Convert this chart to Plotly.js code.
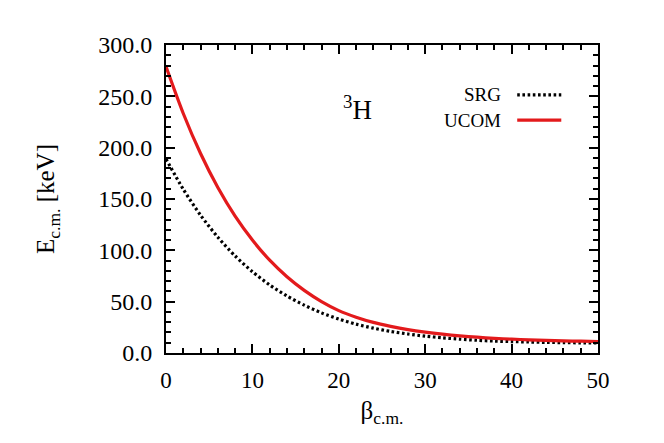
<!DOCTYPE html>
<html>
<head>
<meta charset="utf-8">
<script src="https://cdn.plot.ly/plotly-3.0.1.min.js"></script>
<style>html,body{margin:0;padding:0;background:#fff;}#chart{width:664px;height:443px;}</style>
</head>
<body>
<div id="chart"></div>
<script>
const beta = [0,2,4,6,8,10,12,14,16,18,20,22,24,26,28,30,32,34,36,38,40,42,44,46,48,50];
const srg  = [189,159.5,134.2,112.8,94.5,79.2,66.3,55.5,46.6,39.1,33.1,28.1,24.2,21,18.5,16.4,14.8,13.5,12.4,11.6,11.1,10.7,10.35,10.1,9.9,9.7];
const ucom = [279,233.3,194.3,161.2,133.3,110,90.4,74.3,61,50.1,41.3,34.9,29.8,26,22.8,20.3,18.3,16.7,15.4,14.3,13.5,12.8,12.3,11.8,11.5,11.2];
const seriesNames = ["SRG","UCOM"];
const seriesColors = ["#000000","#e31a1c"];
const seriesDash = ["2.6px,2.6px","solid"];
const xTitle = "β<sub>c.m.</sub>";
const yTitle = "E<sub>c.m.</sub> [keV]";
const nucleusLabel = "<sup>3</sup>H";

const font = "Liberation Serif, Times New Roman, serif";
const traces = [srg, ucom].map((ys, i) => ({
  x: beta, y: ys, type: "scatter", mode: "lines", name: seriesNames[i],
  line: {color: seriesColors[i], width: 3.2, dash: seriesDash[i], shape: "spline", smoothing: 0.8},
  showlegend: false
}));

const annotations = [
  {xref:"paper", yref:"paper", x:0.443, y:0.795, text:nucleusLabel, showarrow:false,
   font:{family:font, size:27, color:"#000"}, xanchor:"center", yanchor:"middle"}
];
const shapes = [];
const legY = [0.838, 0.756];
seriesNames.forEach((n, i) => {
  annotations.push({xref:"paper", yref:"paper", x:0.78, y:legY[i], text:n, showarrow:false,
    font:{family:font, size:19, color:"#000"}, xanchor:"right", yanchor:"middle"});
  shapes.push({type:"line", xref:"paper", yref:"paper", x0:0.813, x1:0.915, y0:legY[i], y1:legY[i],
    line:{color:seriesColors[i], width:3.2, dash:seriesDash[i]}});
});

const axisCommon = {
  showline:true, linecolor:"#000", linewidth:2, mirror:"allticks",
  ticks:"inside", ticklen:9, tickwidth:2, tickcolor:"#000",
  showgrid:false, zeroline:false
};
const layout = {
  width:664, height:443,
  margin:{l:166, r:66, t:45, b:90},
  paper_bgcolor:"#fff", plot_bgcolor:"#fff",
  font:{family:font, color:"#000"},
  xaxis: Object.assign({}, axisCommon, {
    range:[0,50], dtick:10, tick0:0,
    tickfont:{family:font, size:23, color:"#000"},
    minor:{dtick:2, ticks:"inside", ticklen:5, tickwidth:2, tickcolor:"#000"},
    ticklabelstandoff:5,
    title:{text:xTitle, font:{family:font, size:25, color:"#000"}, standoff:10}
  }),
  yaxis: Object.assign({}, axisCommon, {
    range:[0,300], dtick:50, tick0:0, tickformat:".1f",
    tickfont:{family:font, size:24, color:"#000"},
    minor:{dtick:10, ticks:"inside", ticklen:5, tickwidth:2, tickcolor:"#000"},
    ticklabelstandoff:7,
    title:{text:yTitle, font:{family:font, size:25, color:"#000"}, standoff:36}
  }),
  annotations: annotations,
  shapes: shapes
};
Plotly.newPlot("chart", traces, layout, {displayModeBar:false, staticPlot:true});
</script>
</body>
</html>
